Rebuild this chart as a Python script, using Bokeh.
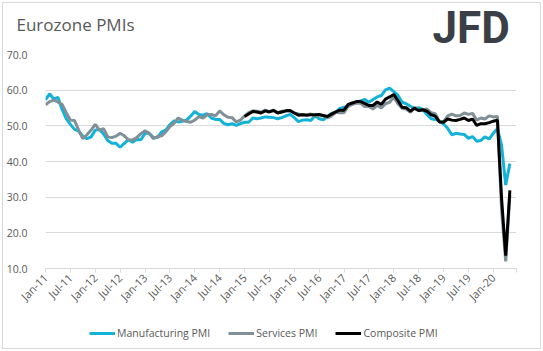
import math
from bokeh.plotting import figure
from bokeh.layouts import column
from bokeh.models import (Legend, LegendItem, FixedTicker, Label, Range1d,
                          NumeralTickFormatter)
from bokeh.embed import file_html
from bokeh.resources import INLINE

# ---- data (monthly, Jan-11 .. May-20) ----
month_names = ["Jan", "Feb", "Mar", "Apr", "May", "Jun",
               "Jul", "Aug", "Sep", "Oct", "Nov", "Dec"]
months = [f"{m}-{y:02d}" for y in range(11, 21) for m in month_names][:113]

manufacturing = [
    57.3, 59.0, 57.5, 58.0, 54.6, 52.0, 50.4, 49.0, 48.5, 47.1, 46.4, 46.9,
    48.8, 49.0, 47.7, 45.9, 45.1, 45.1, 44.0, 45.1, 46.1, 45.4, 46.2, 46.1,
    47.9, 47.9, 46.8, 46.7, 48.3, 48.8, 50.3, 51.4, 51.1, 51.3, 51.6, 52.7,
    54.0, 53.2, 53.0, 53.4, 52.2, 51.8, 51.8, 50.7, 50.3, 50.6, 50.1, 50.6,
    51.0, 51.0, 52.2, 52.0, 52.2, 52.5, 52.4, 52.3, 52.0, 52.3, 52.8, 53.2,
    52.3, 51.2, 51.6, 51.7, 51.5, 52.8, 52.0, 51.7, 52.6, 53.5, 53.7, 54.9,
    55.2, 55.4, 56.2, 56.7, 57.0, 57.4, 56.6, 57.4, 58.1, 58.5, 60.1, 60.6,
    59.6, 58.6, 56.6, 56.2, 55.5, 54.9, 55.1, 54.6, 53.2, 52.0, 51.8, 51.4,
    50.5, 49.3, 47.5, 47.9, 47.7, 47.6, 46.5, 47.0, 45.7, 45.9, 46.9, 46.3,
    47.9, 49.2, 44.5, 33.4, 39.4,
]
services = [
    55.9, 56.8, 57.2, 56.7, 56.0, 53.7, 51.6, 51.5, 48.8, 46.4, 47.5, 48.8,
    50.4, 48.8, 49.2, 46.9, 46.7, 47.1, 47.9, 47.2, 46.1, 46.0, 46.7, 47.8,
    48.6, 47.9, 46.4, 47.0, 47.2, 48.3, 49.8, 50.7, 52.2, 51.6, 51.2, 51.0,
    51.6, 52.6, 52.2, 53.1, 53.2, 52.8, 54.2, 53.1, 52.4, 52.3, 51.1, 51.6,
    52.7, 53.7, 54.2, 54.1, 53.8, 54.4, 54.0, 54.4, 53.7, 54.1, 54.2, 54.2,
    53.6, 53.3, 53.1, 53.1, 53.3, 52.8, 52.9, 52.8, 52.2, 52.8, 53.8, 53.7,
    53.7, 55.5, 56.0, 56.4, 56.3, 55.4, 55.4, 54.7, 55.8, 55.0, 56.2, 56.6,
    58.0, 56.2, 54.9, 54.7, 53.8, 55.2, 54.2, 54.4, 54.7, 53.7, 53.4, 51.2,
    51.2, 52.8, 53.3, 52.8, 52.9, 53.6, 53.2, 53.5, 51.6, 52.2, 51.9, 52.8,
    52.5, 52.6, 26.4, 12.0, 30.5,
]
composite_start = "Jan-15"
composite = [
    52.6, 53.3, 54.0, 53.9, 53.6, 54.2, 53.9, 54.3, 53.6, 53.9, 54.2, 54.3,
    53.6, 53.0, 53.1, 53.0, 53.1, 53.1, 53.2, 52.9, 52.6, 53.3, 53.9, 54.4,
    54.4, 56.0, 56.4, 56.8, 56.8, 56.3, 55.7, 55.7, 56.7, 56.0, 57.5, 58.1,
    58.8, 57.1, 55.2, 55.1, 54.1, 54.9, 54.3, 54.5, 54.1, 53.1, 52.7, 51.1,
    51.0, 51.9, 51.6, 51.5, 51.8, 52.2, 51.5, 51.9, 50.1, 50.6, 50.6, 50.9,
    51.3, 51.6, 29.7, 13.6, 31.9,
]
tick_labels = ["Jan-11", "Jul-11", "Jan-12", "Jul-12", "Jan-13", "Jul-13",
               "Jan-14", "Jul-14", "Jan-15", "Jul-15", "Jan-16", "Jul-16",
               "Jan-17", "Jul-17", "Jan-18", "Jul-18", "Jan-19", "Jul-19",
               "Jan-20"]
y_ticks = [10, 20, 30, 40, 50, 60, 70]
series_names = ["Manufacturing PMI", "Services PMI", "Composite PMI"]
series_colors = ["#12B2D9", "#7F9097", "#000000"]

# ---- derived positions (month index) ----
x_all = list(range(len(manufacturing)))
c0 = months.index(composite_start)
x_comp = list(range(c0, c0 + len(composite)))
tick_pos = [months.index(t) for t in tick_labels]
series_x = [x_all, x_all, x_comp]
series_y = [manufacturing, services, composite]
X_END = 113.6

TXT = "#595959"
FONT = "Open Sans"
W = 537

# ---- header: title + logo ----
hdr = figure(width=W, height=45, output_backend="svg", toolbar_location=None,
             x_range=Range1d(0, W), y_range=Range1d(0, 45),
             x_axis_location=None, y_axis_location=None, min_border=0,
             outline_line_color=None, background_fill_color="white",
             border_fill_color="white")
hdr.frame_align = False
hdr.xgrid.visible = False
hdr.ygrid.visible = False
hdr.add_layout(Label(x=13, y=24, text="Eurozone PMIs", text_font=FONT,
                     text_font_size="17px", text_color=TXT,
                     text_baseline="alphabetic"))
hdr.add_layout(Label(x=429, y=21, text="JFD", text_font="Roboto",
                     text_font_style="bold", text_font_size="44px",
                     text_color="#3A3F47", text_baseline="alphabetic"))

# ---- main chart ----
p = figure(width=W, height=270, output_backend="svg", toolbar_location=None,
           x_range=Range1d(0, X_END), y_range=Range1d(10, 70),
           min_border_left=40, min_border_right=24, min_border_top=6,
           min_border_bottom=50, background_fill_color="white",
           border_fill_color="white", outline_line_color=None)
p.frame_align = False

for xs, ys, col in zip(series_x, series_y, series_colors):
    p.line(xs, ys, line_color=col, line_width=3)

overrides = {pos: lbl for pos, lbl in zip(tick_pos, tick_labels)}
overrides[X_END] = ""
p.xaxis.ticker = FixedTicker(ticks=tick_pos + [X_END])
p.xaxis.major_label_overrides = overrides
p.xaxis.major_label_orientation = math.pi / 4
p.xaxis.axis_line_color = "#D9D9D9"
p.xaxis.major_tick_line_color = "#D9D9D9"
p.xaxis.major_tick_in = 0
p.xaxis.major_tick_out = 4
p.xaxis.minor_tick_line_color = None
p.xaxis.major_label_text_color = TXT
p.xaxis.major_label_text_font = FONT
p.xaxis.major_label_text_font_size = "11px"
p.xaxis.major_label_standoff = 3

p.yaxis.ticker = FixedTicker(ticks=y_ticks)
p.yaxis.formatter = NumeralTickFormatter(format="0.0")
p.yaxis.axis_line_color = None
p.yaxis.major_tick_line_color = None
p.yaxis.minor_tick_line_color = None
p.yaxis.major_label_text_color = TXT
p.yaxis.major_label_text_font = FONT
p.yaxis.major_label_text_font_size = "10.5px"
p.yaxis.major_label_standoff = 12

p.xgrid.grid_line_color = None
p.ygrid.grid_line_color = "#D9D9D9"
p.ygrid.ticker = FixedTicker(ticks=y_ticks)

# ---- legend strip (series drawn out of view; only the legend shows) ----
lf = figure(width=W, height=30, output_backend="svg", toolbar_location=None,
            x_range=Range1d(0, X_END), y_range=Range1d(0, 1),
            x_axis_location=None, y_axis_location=None, min_border=0,
            outline_line_color=None, background_fill_color="white",
            border_fill_color="white")
lf.frame_align = False
lf.xgrid.visible = False
lf.ygrid.visible = False
items = []
for xs, ys, name, col in zip(series_x, series_y, series_names, series_colors):
    r = lf.line(xs, ys, line_color=col, line_width=3)
    items.append(LegendItem(label=name, renderers=[r]))
legend = Legend(items=items, orientation="horizontal", location=(86, 7),
                label_text_font=FONT, label_text_font_size="10.5px",
                label_text_color=TXT, glyph_width=26, glyph_height=16,
                label_standoff=2, spacing=18, border_line_color=None,
                background_fill_alpha=0, padding=0, margin=0)
lf.add_layout(legend)

page = column(hdr, p, lf, spacing=0,
              styles={"border": "1px solid #D9D9D9", "margin": "2px 0 0 2px"})

open("out.html", "w").write(file_html(page, INLINE))
